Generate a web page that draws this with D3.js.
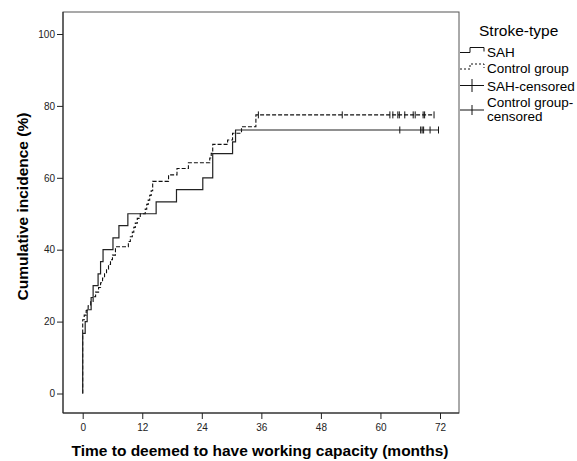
<!DOCTYPE html>
<html>
<head>
<meta charset="utf-8">
<script src="https://cdn.jsdelivr.net/npm/d3@7"></script>
<style>
  html, body { margin: 0; padding: 0; background: #fff; }
  svg { display: block; font-family: "Liberation Sans", Arial, sans-serif; }
  .tick text { fill: #222; font-size: 10px; }
  .tick line { stroke: #222; }
</style>
</head>
<body>
<div id="chart"></div>
<script>
// ── data ────────────────────────────────────────────────────────────────────
const xTicks = [0, 12, 24, 36, 48, 60, 72];
const yTicks = [0, 20, 40, 60, 80, 100];

// SAH: event times (months) and cumulative incidence (%) after each step
const sahTimes  = [0, 0.5, 0.9, 1.7, 2.1, 3.1, 3.6, 4.1, 6.1, 7.3, 9.1, 14.8, 18.9, 24.2, 26.2, 30.2, 30.8];
const sahValues = [16.7, 20.0, 23.3, 26.7, 30.0, 33.3, 36.7, 40.0, 43.3, 46.7, 50.0, 53.3, 56.7, 60.0, 66.7, 70.0, 73.3];
const sahCensored = [63.9, 68.1, 68.4, 68.7, 70.0, 71.7];

// Control group
const ctrlTimes  = [0, 0.3, 0.7, 1.1, 1.6, 2.1, 2.6, 3.2, 3.6, 4.0, 4.4, 4.8, 5.2, 5.6, 6.0, 6.6,
                    9.2, 9.6, 10.0, 10.3, 10.6, 11.0, 11.6, 12.6, 12.9, 13.2, 13.5, 13.8, 14.1,
                    17.3, 19.0, 21.3, 25.6, 25.9, 26.2, 29.2, 30.2, 32.0, 34.9];
const ctrlValues = [20.5, 21.8, 23.1, 24.4, 25.6, 26.9, 28.2, 29.5, 30.8, 32.1, 33.3, 34.6, 35.9, 37.2, 38.5, 40.8,
                    42.3, 43.6, 44.9, 46.2, 47.4, 48.7, 50.0, 51.3, 52.6, 53.8, 55.1, 56.4, 59.0,
                    60.8, 62.6, 64.2, 65.5, 66.8, 69.3, 70.5, 72.4, 74.2, 77.5];
const ctrlCensored = [35.4, 52.3, 61.9, 62.5, 63.5, 63.8, 64.9, 66.6, 67.0, 68.6, 68.9, 70.8];

const legendTitle = 'Stroke-type';
const legendItems = ['SAH', 'Control group', 'SAH-censored', ['Control group-', 'censored']];

// ── svg ─────────────────────────────────────────────────────────────────────
const W = 577, H = 461;
const svg = d3.select('#chart').append('svg').attr('width', W).attr('height', H);

const frame = { left: 63, top: 12, right: 459, bottom: 413 };
const x = d3.scaleLinear().domain([0, 72]).range([82.7, 440]);
const y = d3.scaleLinear().domain([0, 100]).range([393.5, 34]);

// plot frame
svg.append('rect')
  .attr('x', frame.left).attr('y', frame.top)
  .attr('width', frame.right - frame.left).attr('height', frame.bottom - frame.top)
  .attr('fill', 'none').attr('stroke', '#555').attr('stroke-width', 1);

// ── axes ──
const gx = svg.append('g').attr('transform', `translate(0,${frame.bottom})`)
  .call(d3.axisBottom(x).tickValues(xTicks).tickSize(6).tickPadding(5));
gx.select('.domain').remove();

const gy = svg.append('g').attr('transform', `translate(${frame.left},0)`)
  .call(d3.axisLeft(y).tickValues(yTicks).tickSize(6).tickPadding(2));
gy.select('.domain').remove();

svg.append('line').attr('x1', frame.left).attr('x2', frame.left)
  .attr('y1', frame.top).attr('y2', frame.bottom).attr('stroke', '#222');
svg.append('line').attr('x1', frame.left).attr('x2', frame.right)
  .attr('y1', frame.bottom).attr('y2', frame.bottom).attr('stroke', '#222');

// axis titles
svg.append('text')
  .attr('x', 260).attr('y', 456)
  .attr('text-anchor', 'middle')
  .style('font-size', '15.5px').style('font-weight', 'bold')
  .text('Time to deemed to have working capacity (months)');

svg.append('text')
  .attr('transform', 'translate(28,206.5) rotate(-90)')
  .attr('text-anchor', 'middle')
  .style('font-size', '15.5px').style('font-weight', 'bold')
  .text('Cumulative incidence (%)');

// ── step curves ──
function stepPoints(times, values, end) {
  const pts = [[0, 0]];
  times.forEach((t, i) => pts.push([t, values[i]]));
  pts.push([end, values[values.length - 1]]);
  return pts;
}

const line = d3.line().x(d => x(d[0])).y(d => y(d[1])).curve(d3.curveStepAfter);

const ctrlEnd = d3.max(ctrlCensored);
const sahEnd  = d3.max(sahCensored);

svg.append('path')
  .attr('d', line(stepPoints(ctrlTimes, ctrlValues, ctrlEnd)))
  .attr('fill', 'none').attr('stroke', '#111').attr('stroke-width', 1.1)
  .attr('stroke-dasharray', '4,2');

svg.append('path')
  .attr('d', line(stepPoints(sahTimes, sahValues, sahEnd)))
  .attr('fill', 'none').attr('stroke', '#222').attr('stroke-width', 1.2);

// censor marks
function censorMarks(times, level) {
  svg.append('g').selectAll('line')
    .data(times).enter().append('line')
    .attr('x1', d => x(d)).attr('x2', d => x(d))
    .attr('y1', y(level) - 3.5).attr('y2', y(level) + 3.5)
    .attr('stroke', '#111').attr('stroke-width', 1);
}
censorMarks(ctrlCensored, ctrlValues[ctrlValues.length - 1]);
censorMarks(sahCensored, sahValues[sahValues.length - 1]);

// ── legend ──
const lg = svg.append('g');
lg.append('text').attr('x', 479).attr('y', 36)
  .style('font-size', '15.5px').text(legendTitle);

const rowY = [56.5, 73, 90.5, 107];
const lx0 = 460, lx1 = 470, lx2 = 484;

// SAH icon
lg.append('path')
  .attr('d', `M${lx0},${rowY[0] - 4}H${lx1}V${rowY[0] - 9}H${lx2}V${rowY[0] - 5}`)
  .attr('fill', 'none').attr('stroke', '#111').attr('stroke-width', 1);
// Control icon
lg.append('path')
  .attr('d', `M${lx0},${rowY[1] - 4}H${lx1}V${rowY[1] - 9}H${lx2}V${rowY[1] - 5}`)
  .attr('fill', 'none').attr('stroke', '#111').attr('stroke-width', 1)
  .attr('stroke-dasharray', '2,2');
// censored icons
[[rowY[2] - 5, 6.5], [rowY[3] + 3, 5]].forEach(([cy, h]) => {
  lg.append('line').attr('x1', lx0).attr('x2', lx2).attr('y1', cy).attr('y2', cy)
    .attr('stroke', '#111');
  lg.append('line').attr('x1', 472).attr('x2', 472).attr('y1', cy - h).attr('y2', cy + h)
    .attr('stroke', '#111');
});

legendItems.forEach((item, i) => {
  const t = lg.append('text').attr('x', 487).attr('y', rowY[i]).style('font-size', '13.5px');
  if (Array.isArray(item)) {
    item.forEach((s, j) => t.append('tspan').attr('x', 487).attr('dy', j ? 14 : 0).text(s));
  } else {
    t.text(item);
  }
});
</script>
</body>
</html>
